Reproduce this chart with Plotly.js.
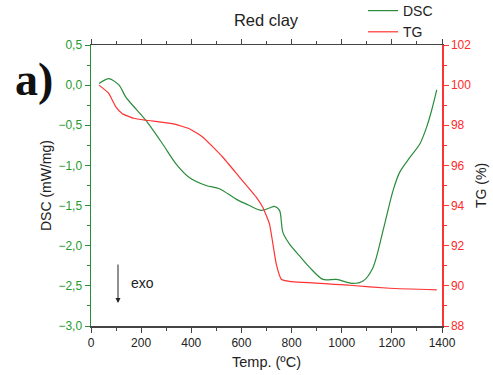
<!DOCTYPE html>
<html><head><meta charset="utf-8">
<script src="https://cdn.plot.ly/plotly-3.0.1.min.js"></script>
<style>html,body{margin:0;padding:0;background:#fff}#c{width:493px;height:375px}</style>
</head><body><div id="c"></div>
<script>
const dscT = [32, 72, 112, 139, 180, 219, 285, 339, 392, 459, 512, 579, 632, 679, 712, 732, 752, 765, 792, 830, 872, 925, 979, 1045, 1085, 1125, 1165, 1205, 1232, 1272, 1312, 1339, 1359, 1379];
const dscV = [0.02, 0.08, 0.0, -0.15, -0.3, -0.44, -0.73, -0.98, -1.15, -1.25, -1.29, -1.42, -1.5, -1.56, -1.53, -1.51, -1.56, -1.83, -1.98, -2.12, -2.27, -2.42, -2.42, -2.47, -2.44, -2.27, -1.81, -1.31, -1.08, -0.9, -0.73, -0.52, -0.31, -0.06];
const tgT = [32, 70, 99, 125, 170, 219, 325, 392, 445, 525, 592, 659, 685, 712, 739, 759, 792, 1032, 1192, 1379];
const tgV = [100, 99.6, 98.92, 98.58, 98.35, 98.25, 98.08, 97.83, 97.42, 96.42, 95.42, 94.42, 93.92, 93.08, 91.08, 90.33, 90.22, 90.03, 89.88, 89.8];
const xTicks = [0, 200, 400, 600, 800, 1000, 1200, 1400];
const y1Ticks = [0.5, 0.0, -0.5, -1.0, -1.5, -2.0, -2.5, -3.0];
const y2Ticks = [88, 90, 92, 94, 96, 98, 100, 102];

const GREEN = '#2a8c3a', RED = '#ff3333', GTXT = '#1f9a2f', RTXT = '#ff2a2a';
const font = 'Liberation Sans, Arial, sans-serif';

const traces = [
  {x: dscT, y: dscV, name: 'DSC', type: 'scatter', mode: 'lines', line: {color: GREEN, width: 1.2, shape: 'spline', smoothing: 0.8}, yaxis: 'y'},
  {x: tgT, y: tgV, name: 'TG', type: 'scatter', mode: 'lines', line: {color: RED, width: 1.2, shape: 'spline', smoothing: 0.4}, yaxis: 'y2'}
];

const layout = {
  width: 493, height: 375,
  margin: {l: 91, r: 51, t: 45, b: 49, autoexpand: false},
  paper_bgcolor: '#fff', plot_bgcolor: '#fff',
  separators: ',.',
  font: {family: font, size: 12, color: '#222'},
  title: {text: 'Red clay', font: {family: font, size: 16.5, color: '#222'}, x: 266/493, xanchor: 'center', y: 1 - 20/375, yanchor: 'middle'},
  showlegend: true,
  legend: {x: (363 - 91) / 351, y: (326 + 5) / 281, xanchor: 'left', yanchor: 'top', bgcolor: 'rgba(0,0,0,0)', font: {family: font, size: 14, color: '#222'}, tracegroupgap: 0, itemwidth: 30},
  xaxis: {
    range: [0, 1400], tickvals: xTicks, tickformat: 'd', ticks: 'outside', ticklen: 5, tickcolor: '#444',
    showline: true, linecolor: '#444', linewidth: 1.5, mirror: 'ticks', showgrid: false, zeroline: false,
    minor: {dtick: 100, ticks: 'outside', ticklen: 3, tickcolor: '#444', showgrid: false},
    tickfont: {family: font, size: 12, color: '#222'},
    title: {text: 'Temp. (ºC)', font: {family: font, size: 14.5, color: '#222'}, standoff: 8}
  },
  yaxis: {
    range: [-3, 0.5], tickvals: y1Ticks, tickformat: '.1f', ticks: 'outside', ticklen: 5, tickcolor: GREEN,
    showline: true, linecolor: GREEN, linewidth: 1.5, showgrid: false, zeroline: false,
    minor: {dtick: 0.25, ticks: 'outside', ticklen: 3, tickcolor: GREEN, showgrid: false},
    tickfont: {family: font, size: 12, color: GTXT},
    title: {text: 'DSC (mW/mg)', font: {family: font, size: 14, color: '#222'}, standoff: 3}
  },
  yaxis2: {
    range: [88, 102], tickvals: y2Ticks, overlaying: 'y', side: 'right', ticks: 'outside', ticklen: 5, tickcolor: RED,
    showline: true, linecolor: RED, linewidth: 1.5, showgrid: false, zeroline: false,
    minor: {dtick: 1, ticks: 'outside', ticklen: 3, tickcolor: RED, showgrid: false},
    tickfont: {family: font, size: 12, color: RTXT},
    title: {text: 'TG (%)', font: {family: font, size: 14, color: '#222'}, standoff: 6}
  },
  annotations: [
    {text: '<b>a)</b>', xref: 'paper', yref: 'paper', x: (34 - 91) / 351, y: (326 - 79) / 281, xanchor: 'center', yanchor: 'middle', showarrow: false, font: {family: 'Liberation Serif, Times New Roman, serif', size: 46, color: '#111'}},
    {text: '', xref: 'paper', yref: 'paper', x: (118 - 91) / 351, y: (326 - 303) / 281, ax: 0, ay: -40, showarrow: true, arrowhead: 2, arrowsize: 1, arrowwidth: 1, arrowcolor: '#222'},
    {text: 'exo', xref: 'paper', yref: 'paper', x: (129 - 91) / 351, y: (326 - 283) / 281, xanchor: 'left', yanchor: 'middle', showarrow: false, font: {family: font, size: 14, color: '#222'}}
  ]
};

Plotly.newPlot('c', traces, layout, {displayModeBar: false, staticPlot: true});
</script>
</body></html>
